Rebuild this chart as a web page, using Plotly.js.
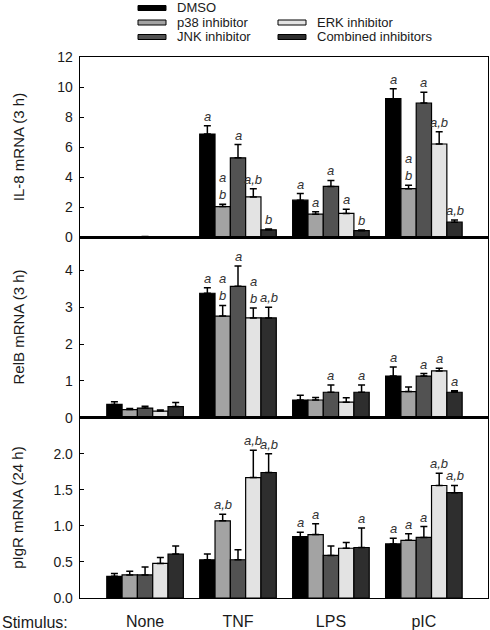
<!DOCTYPE html>
<html>
<head>
<meta charset="utf-8">
<script src="https://cdn.plot.ly/plotly-3.0.1.min.js"></script>
<style>html,body{margin:0;padding:0;background:#fff;}#chart{width:490px;height:630px;}</style>
</head>
<body>
<div id="chart"></div>
<script>
// ---- data ----
const categories = ['None', 'TNF', 'LPS', 'pIC'];
const seriesNames = ['DMSO', 'p38 inhibitor', 'JNK inhibitor', 'ERK inhibitor', 'Combined inhibitors'];
const seriesColors = ['#000000', '#a3a3a3', '#525252', '#e3e3e3', '#2e2e2e'];

// IL-8 mRNA (3 h): rows = series, cols = categories
const il8Mean = [
  [0.03, 6.87, 2.47, 9.23],
  [0.02, 2.05, 1.54, 3.24],
  [0.05, 5.29, 3.39, 8.94],
  [0.02, 2.69, 1.59, 6.21],
  [0.03, 0.50, 0.44, 1.01]
];
const il8Err = [
  [0.01, 0.55, 0.44, 0.66],
  [0.01, 0.15, 0.16, 0.22],
  [0.01, 0.88, 0.40, 0.71],
  [0.01, 0.55, 0.28, 0.82],
  [0.01, 0.05, 0.05, 0.15]
];
const il8Sig = [
  ['', 'a', 'a', 'a'],
  ['', 'a|b', 'a', 'a|b'],
  ['', 'a', 'a', 'a'],
  ['', 'a,b', 'a', 'a,b'],
  ['', 'b', 'b', 'a,b']
];

// RelB mRNA (3 h)
const relbMean = [
  [0.36, 3.38, 0.48, 1.13],
  [0.22, 2.76, 0.48, 0.71],
  [0.26, 3.57, 0.69, 1.13],
  [0.18, 2.71, 0.42, 1.27],
  [0.30, 2.71, 0.69, 0.69]
];
const relbErr = [
  [0.07, 0.15, 0.13, 0.25],
  [0.03, 0.29, 0.07, 0.12],
  [0.05, 0.55, 0.20, 0.07],
  [0.03, 0.27, 0.12, 0.07],
  [0.11, 0.29, 0.20, 0.04]
];
const relbSig = [
  ['', 'a', '', 'a'],
  ['', 'a|b', '', ''],
  ['', 'a', 'a', 'a'],
  ['', 'a|b', '', 'a'],
  ['', 'a,b', 'a', 'a']
];

// pIgR mRNA (24 h)
const pigrMean = [
  [0.30, 0.53, 0.85, 0.75],
  [0.32, 1.07, 0.88, 0.80],
  [0.32, 0.53, 0.59, 0.84],
  [0.48, 1.67, 0.69, 1.56],
  [0.61, 1.74, 0.70, 1.46]
];
const pigrErr = [
  [0.04, 0.08, 0.06, 0.08],
  [0.05, 0.09, 0.15, 0.09],
  [0.11, 0.14, 0.13, 0.15],
  [0.08, 0.38, 0.08, 0.17],
  [0.11, 0.26, 0.27, 0.10]
];
const pigrSig = [
  ['', '', 'a', 'a'],
  ['', 'a,b', 'a', 'a'],
  ['', '', '', 'a'],
  ['', 'a,b', '', 'a,b'],
  ['', 'a,b', 'a', 'a,b']
];

const panelTitles = ['IL-8 mRNA (3 h)', 'RelB mRNA (3 h)', 'pIgR mRNA (24 h)'];
const stimulusLabel = 'Stimulus:';

// ---- layout geometry ----
const W = 490, H = 630;
const M = {l: 80, r: 2, t: 57, b: 32};
const plotW = W - M.l - M.r, plotH = H - M.t - M.b;
const px2x = p => (p - M.l) / plotW;
const py2y = p => (H - M.b - p) / plotH;
const FONT = 'Liberation Sans, Arial, sans-serif';
const BARGAP = 0.176;
const nS = seriesNames.length;
const barW = (1 - BARGAP) / nS;

const panels = [
  {mean: il8Mean, err: il8Err, sig: il8Sig, range: [0, 12], tickvals: [0, 2, 4, 6, 8, 10, 12], fmt: 'd', dom: [2/3, 1]},
  {mean: relbMean, err: relbErr, sig: relbSig, range: [0, 4.9], tickvals: [0, 1, 2, 3, 4], fmt: 'd', dom: [1/3, 2/3]},
  {mean: pigrMean, err: pigrErr, sig: pigrSig, range: [0, 2.5], tickvals: [0, 0.5, 1, 1.5, 2], fmt: '.1f', dom: [0, 1/3]}
];

const traces = [];
const annotations = [];
const shapes = [];
const layout = {
  width: W, height: H,
  margin: M,
  paper_bgcolor: '#ffffff', plot_bgcolor: '#ffffff',
  font: {family: FONT, size: 14, color: '#1a1a1a'},
  showlegend: false,
  barmode: 'group',
  bargap: BARGAP,
  bargroupgap: 0
};

panels.forEach((p, k) => {
  const xa = k === 0 ? 'x' : 'x' + (k + 1);
  const ya = k === 0 ? 'y' : 'y' + (k + 1);
  const xKey = k === 0 ? 'xaxis' : 'xaxis' + (k + 1);
  const yKey = k === 0 ? 'yaxis' : 'yaxis' + (k + 1);
  for (let s = 0; s < nS; s++) {
    traces.push({
      type: 'bar',
      x: categories,
      y: p.mean[s],
      name: seriesNames[s],
      xaxis: xa, yaxis: ya,
      marker: {color: seriesColors[s], line: {color: '#000000', width: 1.2}},
      error_y: {type: 'data', array: p.err[s], arrayminus: p.err[s].map(() => 0), symmetric: false,
                color: '#000000', thickness: 1.5, width: 3.5},
      hoverinfo: 'skip'
    });
    for (let c = 0; c < categories.length; c++) {
      const lab = p.sig[s][c];
      if (!lab) continue;
      const txt = lab.split('|').map(t => '<i>' + t + '</i>').join('<br>');
      annotations.push({
        xref: xa, yref: ya,
        x: c + (s - (nS - 1) / 2) * barW,
        y: p.mean[s][c] + p.err[s][c],
        text: txt, showarrow: false,
        xanchor: 'center', yanchor: 'bottom', yshift: 0,
        font: {family: FONT, size: 13, color: '#333333'}
      });
    }
  }
  layout[xKey] = {
    type: 'category',
    range: [-0.7, categories.length - 1 + 0.69],
    anchor: ya,
    showline: true, linecolor: '#000000', linewidth: 1.3, mirror: true,
    showgrid: false, zeroline: false,
    ticks: '',
    showticklabels: k === 2,
    tickfont: {family: FONT, size: 16, color: '#1a1a1a'},
    ticklabelstandoff: 8,
    fixedrange: true
  };
  if (k !== 0) layout[xKey].matches = 'x';
  layout[yKey] = {
    domain: p.dom,
    range: p.range,
    anchor: xa,
    tickvals: p.tickvals,
    tickformat: p.fmt,
    ticks: 'inside', ticklen: 4, tickwidth: 1, tickcolor: '#000000',
    showline: true, linecolor: '#000000', linewidth: 1.3, mirror: true,
    showgrid: false, zeroline: false,
    tickfont: {family: FONT, size: 14, color: '#1a1a1a'},
    ticklabelstandoff: 3,
    fixedrange: true
  };
  annotations.push({
    xref: 'paper', yref: 'paper',
    x: px2x(18), y: (p.dom[0] + p.dom[1]) / 2,
    text: panelTitles[k], textangle: -90, showarrow: false,
    xanchor: 'center', yanchor: 'middle',
    font: {family: FONT, size: 15, color: '#1a1a1a'}
  });
});

// "Stimulus:" label
annotations.push({
  xref: 'paper', yref: 'paper',
  x: px2x(0), y: py2y(622),
  text: stimulusLabel, showarrow: false,
  xanchor: 'left', yanchor: 'middle',
  font: {family: FONT, size: 16, color: '#1a1a1a'}
});

// legend (manual, flat swatches)
const legendPos = [[138, 8], [138, 22.5], [138, 37], [278, 22.5], [278, 37]];
seriesNames.forEach((nm, s) => {
  const [lx, ly] = legendPos[s];
  shapes.push({
    type: 'rect', xref: 'paper', yref: 'paper',
    x0: px2x(lx), x1: px2x(lx + 28), y0: py2y(ly + 2.5), y1: py2y(ly - 2.5),
    fillcolor: seriesColors[s], line: {color: '#000000', width: 1}
  });
  annotations.push({
    xref: 'paper', yref: 'paper',
    x: px2x(lx + 37), y: py2y(ly),
    text: nm, showarrow: false, xanchor: 'left', yanchor: 'middle',
    font: {family: FONT, size: 13, color: '#1a1a1a'}
  });
});

layout.annotations = annotations;
layout.shapes = shapes;

Plotly.newPlot('chart', traces, layout, {displayModeBar: false, staticPlot: true});
</script>
</body>
</html>
